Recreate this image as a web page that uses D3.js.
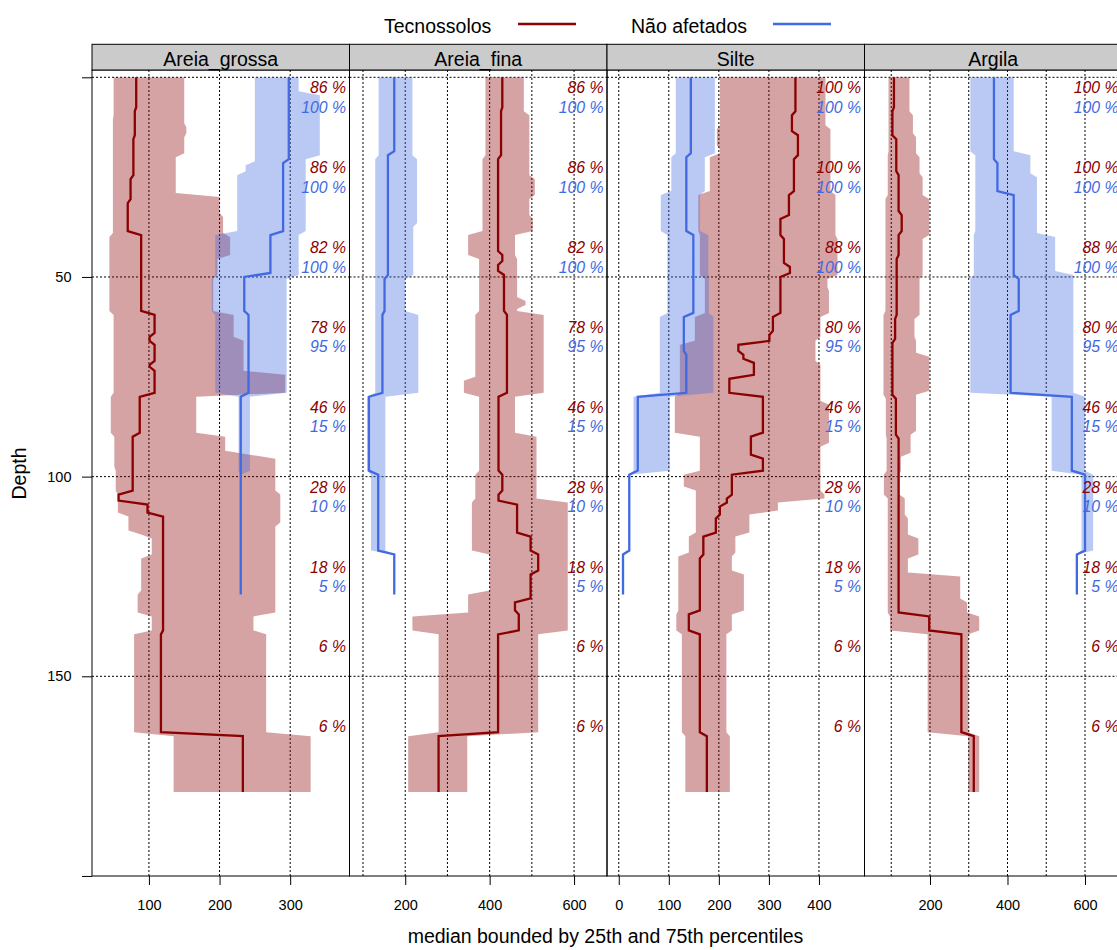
<!DOCTYPE html>
<html>
<head>
<meta charset="utf-8">
<script src="https://cdn.jsdelivr.net/npm/d3@7"></script>
<style>
  body { margin: 0; background: #fff; }
  svg { display: block; font-family: "Liberation Sans", Arial, sans-serif; }
</style>
</head>
<body>
<svg id="chart" width="1117" height="950"></svg>
<script>
// ---------- data ----------
const panelNames = ["Areia_grossa", "Areia_fina", "Silte", "Argila"];
const groupNames = ["Tecnossolos", "Não afetados"];
const groupBottom = [179, 129.5];   // deepest slice of each group

// contributing fraction (%) per 20 cm interval
const cfTops = [0, 20, 40, 60, 80, 100, 120, 140, 160];
const cfTec = [
  [86, 86, 82, 78, 46, 28, 18, 6, 6],
  [86, 86, 82, 78, 46, 28, 18, 6, 6],
  [100, 100, 88, 80, 46, 28, 18, 6, 6],
  [100, 100, 88, 80, 46, 28, 18, 6, 6]
];
const cfNao = [
  [100, 100, 100, 95, 15, 10, 5],
  [100, 100, 100, 95, 15, 10, 5],
  [100, 100, 100, 95, 15, 10, 5],
  [100, 100, 100, 95, 15, 10, 5]
];

// step profiles: [top depth, value] -> value holds until the next top
const grossaTec = {
  p25: [[0,50],[10,49],[39.5,44],[59,50],[79.5,46],[89.5,51],[98,53],[104,56],[109.5,71],[114,89],[115,104],[120,89],[129,84],[134.5,104],[139,79],[164.5,135]],
  p50: [[0,82],[8,80],[15,78],[25,74],[31,70],[39,89],[59,108],[64.5,101],[66.5,108],[71.5,101],[73,108],[79.5,87],[89.5,77],[104,57],[106.5,98],[109.5,120],[139,117],[164.5,233]],
  p75: [[0,150],[12,153],[14.5,150],[19.5,138],[29.5,200],[34.5,205],[39.5,215],[45,197],[50,191],[59,220],[65.5,234],[74,293],[79.5,167],[89.5,208],[94,243],[95,279],[104,286],[112,279],[134.5,248],[139,266],[164.5,329]]
};
const grossaNao = {
  p25: [[0,250],[21.5,237],[24,225],[39,194],[50,189],[59,194],[79.5,227],[99,230]],
  p50: [[0,298],[21,290],[39,272],[49.5,235],[59,241],[79.5,230]],
  p75: [[0,312],[4,342],[20,322],[39,312],[50,295],[79.5,243],[99,230]]
};
const finaTec = {
  p25: [[0,390],[20,383],[39,349],[45,375],[59,366],[75.5,339],[79.5,375],[99,366],[106,358],[119,400],[129,349],[134.5,217],[139,279],[164.5,207]],
  p50: [[0,430],[8,427],[20,420],[44,430],[46.5,420],[49,434],[59,441],[79.5,421],[99,430],[104,421],[106.5,465],[114.5,497],[119,515],[124,497],[131,460],[134,469],[139,420],[164.5,279]],
  p75: [[0,481],[9,494],[25,507],[30,494],[35,502],[39,460],[45,465],[55.5,485],[57.5,465],[59,528],[79.5,460],[89.5,511],[106,585],[139,515],[164.5,347]]
};
const finaNao = {
  p25: [[0,137],[20,129],[79.5,110],[99,119],[119,174]],
  p50: [[0,174],[19,159],[50,151],[59,146],[79.5,114],[99,136],[119,174]],
  p75: [[0,217],[20,228],[37,219],[50,200],[59,231],[79.5,153],[119,174]]
};
const silteTec = {
  p25: [[0,202],[12.5,196],[17.5,202],[19.5,182],[29,159],[39,162],[50,172],[59.5,152],[66.5,122],[79.5,112],[89.5,162],[99,130],[103,154],[114.5,140],[119.5,119],[134,115],[139,126],[164.5,133]],
  p50: [[0,353],[9,346],[14,358],[20,350],[29,340],[35,323],[40,330],[47,342],[49.5,323],[59.5,308],[64,301],[66.5,239],[69,249],[71,270],[75,221],[79.5,288],[89.5,264],[95,288],[99,226],[105,216],[107,202],[110,194],[114.5,169],[120,162],[134,140],[139,162],[164.5,176]],
  p75: [[0,413],[12.5,423],[29,433],[40,437],[50,417],[53,420],[59.5,403],[65.5,393],[71.5,403],[81.5,420],[92,403],[104,411],[106,318],[109,261],[114.5,233],[119.5,226],[124,250],[134,226],[139,215],[164.5,222]]
};
const silteNao = {
  p25: [[0,114],[19.5,105],[29,84],[39,97],[59.5,82],[79.5,29.5],[99,21],[119,8.5]],
  p50: [[0,144],[19.5,135],[39,149],[59.5,130],[69,135],[79.5,38],[99,21],[119,8.5]],
  p75: [[0,192],[19.5,172],[29,162],[39,179],[50,180],[59.5,189],[79.5,102],[99,21],[119,8.5]]
};
const argilaTec = {
  p25: [[0,93],[19,91],[30,85],[59,80],[80,86],[90,88],[99,81],[105,91],[134.5,97],[139,194],[164.5,299]],
  p50: [[0,107],[8,103],[15,113],[24,119],[34,127],[39,119],[45,114],[60,110],[66,103],[80,112],[90,119],[134.5,198],[139,281],[164.5,313]],
  p75: [[0,147],[9,156],[14.5,164],[19.5,173],[24.5,181],[30,198],[40,181],[50,173],[60,160],[65.5,164],[69.5,198],[79,164],[89,150],[94.5,125],[99,121],[105,135],[110,143],[115,170],[120,143],[124.5,278],[131,296],[134.5,327],[139,299],[164.5,327]]
};
const argilaNao = {
  p25: [[0,304],[19,317],[39,313],[50,304],[79.5,514],[99,591],[119,579]],
  p50: [[0,365],[21,374],[29,416],[50,429],[59,408],[79.5,566],[99,600],[119,579]],
  p75: [[0,416],[19,459],[24.5,476],[39.5,523],[49,570],[79.5,600],[99,621],[119,579]]
};

// axis limits and labelled ticks of each panel
const xLimits = [[19.4, 384], [68, 678], [-23.5, 491], [31, 695.5]];
const xTickValues = [[100, 200, 300], [200, 400, 600], [0, 100, 200, 300, 400], [200, 400, 600]];
const yTickValues = [0, 50, 100, 150, 200];

// ---------- layout ----------
const panelW = 257.5, left0 = 92, top0 = 70, bottom0 = 876, stripTop = 44.3;
const tecColor = "#8B0000", naoColor = "#4169E1";
const groupColors = [tecColor, naoColor];

const svg = d3.select("#chart");
const y = d3.scaleLinear().domain([0, 150]).range([77.3, 676.3]);

const panels = panelNames.map((name, i) => ({
  name,
  x0: left0 + i * panelW,
  xScale: d3.scaleLinear().domain(xLimits[i]).range([left0 + i * panelW, left0 + (i + 1) * panelW]),
  ticks: xTickValues[i],
  series: [[grossaTec, finaTec, silteTec, argilaTec][i], [grossaNao, finaNao, silteNao, argilaNao][i]],
  cf: [cfTec[i], cfNao[i]]
}));

// steps -> polyline points, with the half-slice slant of 1 cm slabs
function stepPoints(steps, bottom) {
  const pts = [];
  steps.forEach((s, i) => {
    const t0 = i === 0 ? s[0] : s[0] + 0.5;
    const t1 = i === steps.length - 1 ? bottom : steps[i + 1][0] - 0.5;
    pts.push([s[1], t0], [s[1], t1]);
  });
  return pts;
}

const defs = svg.append("defs");

panels.forEach((p, i) => {
  const x = p.xScale;
  defs.append("clipPath").attr("id", "clip" + i)
    .append("rect").attr("x", p.x0).attr("y", top0).attr("width", panelW).attr("height", bottom0 - top0);

  const g = svg.append("g");
  const inner = g.append("g").attr("clip-path", "url(#clip" + i + ")");

  // grid
  const vGrid = d3.range(0, 800, 100).filter(v => v > xLimits[i][0] && v < xLimits[i][1]);
  inner.selectAll(".vg").data(vGrid).join("line")
    .attr("x1", d => x(d)).attr("x2", d => x(d))
    .attr("y1", top0).attr("y2", bottom0)
    .attr("stroke", "#000").attr("stroke-width", 1).attr("stroke-dasharray", "2,2");
  inner.selectAll(".hg").data([0, 50, 100, 150]).join("line")
    .attr("x1", p.x0).attr("x2", p.x0 + panelW)
    .attr("y1", d => y(d)).attr("y2", d => y(d))
    .attr("stroke", "#000").attr("stroke-width", 1).attr("stroke-dasharray", "2,2");

  // bands
  const area = d3.line().x(d => x(d[0])).y(d => y(d[1]));
  p.series.forEach((s, k) => {
    const hi = stepPoints(s.p75, groupBottom[k]);
    const lo = stepPoints(s.p25, groupBottom[k]).reverse();
    inner.append("path")
      .attr("d", area(hi.concat(lo)) + "Z")
      .attr("fill", groupColors[k]).attr("fill-opacity", 0.36).attr("stroke", "none");
  });
  // medians
  p.series.forEach((s, k) => {
    inner.append("path")
      .attr("d", area(stepPoints(s.p50, groupBottom[k])))
      .attr("fill", "none").attr("stroke", groupColors[k]).attr("stroke-width", 2.3);
  });

  // contributing fraction labels
  p.cf.forEach((vals, k) => {
    g.selectAll(".cf" + k).data(vals).join("text")
      .attr("x", p.x0 + panelW - 3.5)
      .attr("y", (d, j) => y(cfTops[j]) + (k === 0 ? 10.5 : 30))
      .attr("dominant-baseline", "central")
      .attr("text-anchor", "end")
      .attr("font-style", "italic")
      .attr("font-size", "15.8px")
      .attr("fill", groupColors[k])
      .text(d => d + " %");
  });

  // panel border and strip
  g.append("rect").attr("x", p.x0).attr("y", top0).attr("width", panelW).attr("height", bottom0 - top0)
    .attr("fill", "none").attr("stroke", "#000").attr("stroke-width", 1);
  g.append("rect").attr("x", p.x0).attr("y", stripTop).attr("width", panelW).attr("height", top0 - stripTop)
    .attr("fill", "#cbcbcb").attr("stroke", "#000").attr("stroke-width", 1);
  g.append("text").attr("x", p.x0 + panelW / 2).attr("y", 65.5)
    .attr("text-anchor", "middle").attr("font-size", "19.5px").attr("fill", "#000")
    .text(p.name);

  // bottom axis
  const ax = g.append("g").attr("transform", `translate(0,${bottom0})`)
    .call(d3.axisBottom(x).tickValues(p.ticks).tickSize(9).tickPadding(15));
  ax.select(".domain").remove();
  ax.selectAll("text").attr("font-size", "14.5px").attr("font-family", "Liberation Sans, Arial, sans-serif").attr("fill", "#000");
  ax.selectAll("line").attr("stroke", "#000");
});

// left axis
const ay = svg.append("g").attr("transform", `translate(${left0},0)`)
  .call(d3.axisLeft(y).tickValues(yTickValues).tickSize(10).tickPadding(10.5)
    .tickFormat(d => (d === 0 || d === 200) ? "" : d));
ay.select(".domain").remove();
ay.selectAll("text").attr("font-size", "14.5px").attr("font-family", "Liberation Sans, Arial, sans-serif").attr("fill", "#000");
ay.selectAll("line").attr("stroke", "#000");

// axis titles
svg.append("text").attr("x", 605.5).attr("y", 943)
  .attr("text-anchor", "middle").attr("font-size", "19.5px").attr("fill", "#000")
  .text("median bounded by 25th and 75th percentiles");
svg.append("text").attr("transform", "translate(26,473.5) rotate(-90)")
  .attr("text-anchor", "middle").attr("font-size", "19.5px").attr("fill", "#000")
  .text("Depth");

// legend
const legendItems = [
  { label: groupNames[0], tx: 384, lx: 518, color: tecColor },
  { label: groupNames[1], tx: 631, lx: 773, color: naoColor }
];
legendItems.forEach(it => {
  svg.append("text").attr("x", it.tx).attr("y", 33)
    .attr("font-size", "19.5px").attr("fill", "#000").text(it.label);
  svg.append("line").attr("x1", it.lx).attr("x2", it.lx + 58).attr("y1", 24).attr("y2", 24)
    .attr("stroke", it.color).attr("stroke-width", 2.3);
});
</script>
</body>
</html>
